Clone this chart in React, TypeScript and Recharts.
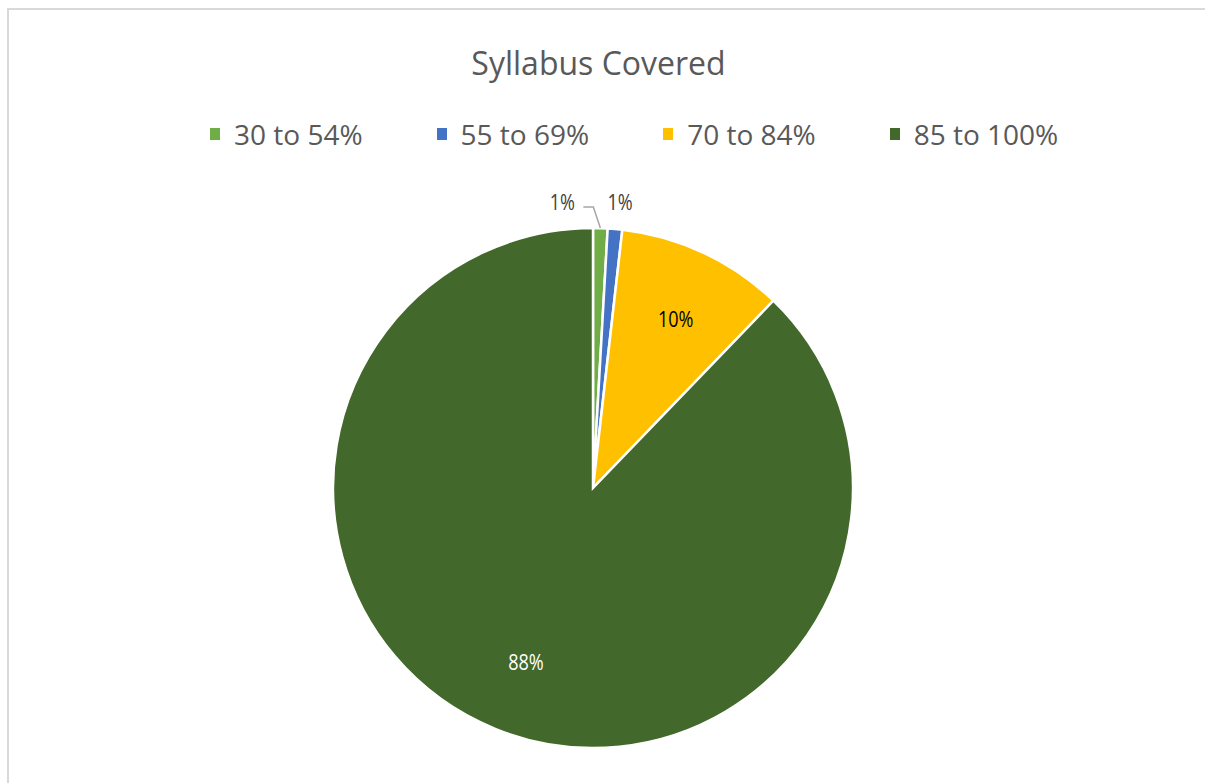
import { PieChart, Pie, Cell } from "recharts";

const categories = ["30 to 54%", "55 to 69%", "70 to 84%", "85 to 100%"];
const shares = [0.9, 0.9, 10.4, 87.8];
const colors = ["#70AD47", "#4472C4", "#FFC000", "#43682B"];
const labelColors = ["#404040", "#404040", "#000000", "#FFFFFF"];

const data = categories.map((name, i) => ({ name, value: shares[i] }));

const RAD = Math.PI / 180;
const FONT = "'Open Sans', 'Liberation Sans', sans-serif";

// labels in the source are a bit taller than they are wide
const LabelText = ({ x, y, fill, children }: any) => (
  <text
    transform={`translate(${x},${y}) scale(0.95,1.15)`}
    textAnchor="middle"
    dominantBaseline="central"
    fill={fill}
    fontSize={19}
    fontFamily={FONT}
  >
    {children}
  </text>
);

const renderLabel = (props: any) => {
  const { cx, cy, midAngle, outerRadius, percent, index } = props;
  const text = `${Math.round(percent * 100)}%`;
  const cos = Math.cos(-midAngle * RAD);
  const sin = Math.sin(-midAngle * RAD);

  if (percent < 0.05) {
    // tiny slices sit above the pie, the first one pushed left with a leader line
    const ex = cx + outerRadius * cos;
    const ey = cy + outerRadius * sin;
    const y = cy - outerRadius - 26;
    const x = index === 0 ? ex - 38 : ex + 5;
    return (
      <g key={`lbl-${index}`}>
        {index === 0 && (
          <polyline
            points={`${ex - 17},${y + 5} ${ex - 7},${y + 5} ${ex},${ey}`}
            fill="none"
            stroke="#A6A6A6"
            strokeWidth={1.5}
          />
        )}
        <LabelText x={x} y={y} fill={labelColors[index]}>
          {text}
        </LabelText>
      </g>
    );
  }

  const r = outerRadius * 0.72;
  return (
    <LabelText key={`lbl-${index}`} x={cx + r * cos + 3} y={cy + r * sin} fill={labelColors[index]}>
      {text}
    </LabelText>
  );
};

export default function App() {
  return (
    <div style={{ position: "fixed", left: 0, top: 0, width: 1400, height: 900, overflow: "hidden", background: "#fff" }}>
      <div
        style={{
          position: "absolute",
          left: 7,
          top: 8,
          width: 1300,
          height: 900,
          borderLeft: "2px solid #D9D9D9",
          borderTop: "2px solid #D9D9D9",
        }}
      />
      <div
        style={{
          position: "absolute",
          left: 0,
          width: 1197,
          top: 41,
          textAlign: "center",
          fontFamily: FONT,
          fontSize: 32,
          lineHeight: "44px",
          color: "#595959",
        }}
      >
        Syllabus Covered
      </div>
      <div
        style={{
          position: "absolute",
          left: 210,
          top: 114,
          display: "flex",
          gap: 74,
          fontFamily: FONT,
          fontSize: 28,
          lineHeight: "40px",
          color: "#595959",
        }}
      >
        {categories.map((c, i) => (
          <div key={c} style={{ display: "flex", alignItems: "center", gap: 14 }}>
            <div style={{ width: 10, height: 12, background: colors[i] }} />
            <span>{c}</span>
          </div>
        ))}
      </div>
      <div style={{ position: "absolute", left: 0, top: 0 }}>
        <PieChart width={1205} height={783} margin={{ top: 0, right: 0, bottom: 0, left: 0 }}>
          <Pie
            data={data}
            dataKey="value"
            nameKey="name"
            cx={593}
            cy={488}
            outerRadius={260}
            startAngle={90}
            endAngle={-270}
            stroke="#FFFFFF"
            strokeWidth={2.5}
            label={renderLabel}
            labelLine={false}
            isAnimationActive={false}
          >
            {data.map((d, i) => (
              <Cell key={d.name} fill={colors[i]} />
            ))}
          </Pie>
        </PieChart>
      </div>
    </div>
  );
}
